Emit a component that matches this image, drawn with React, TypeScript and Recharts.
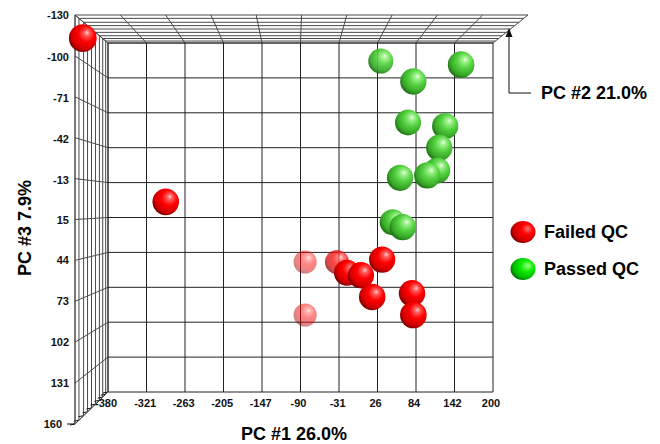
import { Legend, Scatter, ScatterChart, XAxis, YAxis } from 'recharts'

const pc1Ticks = [-380, -321, -263, -205, -147, -90, -31, 26, 84, 142, 200]
const pc3Ticks = [-130, -100, -71, -42, -13, 15, 44, 73, 102, 131, 160]

// failed samples, drawn back to front
const failedPc1 = [-418, -293, -83, -83, -35, -20, 1, 33, 18, 78, 80]
const failedPc3 = [-134, 2, 96, 52, 52, 61, 63, 50, 81, 78, 96]
const failedPc2 = [60, 20, -95, -95, -60, 0, 10, 10, 15, 15, 20]

const passedPc1 = [31, 152, 80, 72, 128, 119, 116, 101, 60, 49, 64]
const passedPc3 = [-115, -112, -98, -64, -61, -43, -24, -20, -18, 19, 23]
const passedPc2 = [-30, 20, 10, 0, 10, 10, 0, 10, 10, 0, 10]

const failed = failedPc1.map((pc1, i) => ({ pc1, pc3: failedPc3[i], pc2: failedPc2[i] }))
const passed = passedPc1.map((pc1, i) => ({ pc1, pc3: passedPc3[i], pc2: passedPc2[i] }))

const W = 660
const H = 444
const FONT = '"Liberation Sans", Arial, sans-serif'

// box geometry: back wall = plot area, front face = inner rectangle
const FRONT = { left: 108, right: 493, top: 43, bottom: 392 }
const BACK = { left: 75, right: 528, top: 15, bottom: 424 }
const DEPTH_STEPS = [0, 0.12, 0.26, 0.38, 0.5, 0.62, 0.74, 0.84, 0.93, 1]

const x0 = pc1Ticks[0]
const x1 = pc1Ticks[pc1Ticks.length - 1]
const y0 = pc3Ticks[0]
const y1 = pc3Ticks[pc3Ticks.length - 1]
const slopeX = (x1 - x0) / (FRONT.right - FRONT.left)
const slopeY = (y1 - y0) / (FRONT.bottom - FRONT.top)
const frontXDomain = [x0 - (FRONT.left - BACK.left) * slopeX, x1 + (BACK.right - FRONT.right) * slopeX]
const frontYDomain = [y0 - (FRONT.top - BACK.top) * slopeY, y1 + (BACK.bottom - FRONT.bottom) * slopeY]

const lerp = (a: number, b: number, t: number) => a + (b - a) * t

function Frame() {
  const n = pc1Ticks.length
  const m = pc3Ticks.length
  const fx = (i: number) => lerp(FRONT.left, FRONT.right, i / (n - 1))
  const bx = (i: number) => lerp(BACK.left, BACK.right, i / (n - 1))
  const fy = (i: number) => lerp(FRONT.top, FRONT.bottom, i / (m - 1))
  const by = (i: number) => lerp(BACK.top, BACK.bottom, i / (m - 1))

  const wall = '#4a4a4a'
  const grid = '#222'

  return (
    <svg width={W} height={H} style={{ position: 'absolute', left: 0, top: 0 }}>
      <defs>
        <radialGradient id="ballRed" cx="0.6" cy="0.4" r="0.7" fx="0.66" fy="0.3">
          <stop offset="0" stopColor="#ffd0d0" />
          <stop offset="0.15" stopColor="#ff5a5a" />
          <stop offset="0.42" stopColor="#ff0000" />
          <stop offset="0.75" stopColor="#d00000" />
          <stop offset="1" stopColor="#4a0000" />
        </radialGradient>
        <radialGradient id="ballGreen" cx="0.6" cy="0.4" r="0.7" fx="0.66" fy="0.3">
          <stop offset="0" stopColor="#e6ffe0" />
          <stop offset="0.15" stopColor="#9cf08a" />
          <stop offset="0.42" stopColor="#55d342" />
          <stop offset="0.75" stopColor="#36a526" />
          <stop offset="1" stopColor="#11500a" />
        </radialGradient>
        <radialGradient id="legendRed" cx="0.62" cy="0.4" r="0.7" fx="0.7" fy="0.35">
          <stop offset="0" stopColor="#ff7070" />
          <stop offset="0.35" stopColor="#ff0000" />
          <stop offset="0.75" stopColor="#cc0000" />
          <stop offset="1" stopColor="#500000" />
        </radialGradient>
        <radialGradient id="legendGreen" cx="0.62" cy="0.4" r="0.7" fx="0.7" fy="0.35">
          <stop offset="0" stopColor="#a0ff90" />
          <stop offset="0.35" stopColor="#10f000" />
          <stop offset="0.75" stopColor="#00b800" />
          <stop offset="1" stopColor="#005000" />
        </radialGradient>
      </defs>

      {/* depth lines on the left wall and the top face */}
      {DEPTH_STEPS.map((t) => {
        const xl = lerp(BACK.left, FRONT.left, t)
        const xr = lerp(BACK.right, FRONT.right, t)
        const yt = lerp(BACK.top, FRONT.top, t)
        const yb = lerp(BACK.bottom, FRONT.bottom, t)
        return (
          <g key={t}>
            <line x1={xl} y1={yt} x2={xl} y2={yb} stroke={wall} />
            <line x1={xl} y1={yt} x2={xr} y2={yt} stroke={wall} />
            <line x1={xl} y1={yb} x2={xl - 5} y2={yb + 1} stroke="#111" />
          </g>
        )
      })}
      <line x1={BACK.left} y1={BACK.bottom} x2={FRONT.left} y2={FRONT.bottom} stroke={wall} />
      <line x1={BACK.left - 8} y1={BACK.bottom} x2={BACK.left} y2={BACK.bottom} stroke="#111" />

      {/* tick connectors from back wall to front face */}
      {pc3Ticks.map((v, i) => (
        <line key={'wy' + v} x1={BACK.left} y1={by(i)} x2={FRONT.left} y2={fy(i)} stroke={wall} />
      ))}
      {pc1Ticks.map((v, i) => (
        <line key={'tx' + v} x1={bx(i)} y1={BACK.top} x2={fx(i)} y2={FRONT.top} stroke={wall} />
      ))}

      {/* front face grid */}
      {pc1Ticks.map((v, i) => (
        <line key={'fx' + v} x1={fx(i)} y1={FRONT.top} x2={fx(i)} y2={FRONT.bottom} stroke={grid} />
      ))}
      {pc3Ticks.map((v, i) => (
        <line key={'fy' + v} x1={FRONT.left} y1={fy(i)} x2={FRONT.right} y2={fy(i)} stroke={grid} />
      ))}

      {/* PC #2 axis pointer */}
      <polyline points="509,36 509,93 531,93" fill="none" stroke="#111" />
      <polygon points="509,28 505.5,37 512.5,37" fill="#111" />

      <g fontFamily={FONT} fontWeight="bold" fontSize={18} fill="#000">
        <text x={541} y={99}>PC #2 21.0%</text>
        <text x={294} y={440} textAnchor="middle">PC #1 26.0%</text>
        <text transform="translate(31, 228) rotate(-90)" textAnchor="middle">PC #3 7.9%</text>
      </g>
    </svg>
  )
}

function makeBall(grad: string) {
  return (props: any) => {
    const { cx, cy, payload } = props
    if (cx == null || cy == null) return <g />
    const r = 13 + payload.pc2 * 0.015
    const op = Math.min(1, 0.45 + ((payload.pc2 + 100) / 80) * 0.55)
    return <circle cx={cx} cy={cy} r={r} fill={`url(#${grad})`} opacity={op} />
  }
}

function Pc1Tick({ x, y, payload }: any) {
  return (
    <text x={x - 2} y={y - 17} textAnchor="middle" fontSize={11} fontWeight="bold" fill="#111" fontFamily={FONT}>
      {payload.value}
    </text>
  )
}

// the last PC #3 label sits left of the corner tick mark
function Pc3Tick({ x, y, payload }: any) {
  const shift = payload.value === y1 ? 7 : 0
  return (
    <text x={x - shift} y={y + 4} textAnchor="end" fontSize={11} fontWeight="bold" fill="#111" fontFamily={FONT}>
      {payload.value}
    </text>
  )
}

function LegendBox({ payload }: any) {
  return (
    <div style={{ display: 'flex', flexDirection: 'column', gap: 11, fontFamily: FONT }}>
      {(payload ?? []).map((e: any) => (
        <div key={e.value} style={{ display: 'flex', alignItems: 'center', height: 26 }}>
          <svg width={26} height={24}>
            <ellipse cx={13} cy={12} rx={12.5} ry={11}
              fill={`url(#${e.value === 'Failed QC' ? 'legendRed' : 'legendGreen'})`} />
          </svg>
          <span style={{ marginLeft: 8, fontSize: 18, fontWeight: 'bold', color: '#000' }}>{e.value}</span>
        </div>
      ))}
    </div>
  )
}

export default function App() {
  return (
    <div style={{ position: 'absolute', left: 0, top: 0, width: W, height: H, background: '#fff', fontFamily: FONT }}>
      <Frame />
      <div style={{ position: 'absolute', left: 0, top: 0 }}>
        <ScatterChart width={W} height={H} margin={{ top: BACK.top, right: W - BACK.right, bottom: 0, left: 0 }}>
          <XAxis
            xAxisId="front"
            type="number"
            dataKey="pc1"
            domain={frontXDomain}
            ticks={pc1Ticks}
            interval={0}
            height={H - BACK.bottom}
            axisLine={false}
            tickLine={false}
            tickSize={0}
            tickMargin={0}
            tick={<Pc1Tick />}
          />
          <YAxis
            yAxisId="back"
            type="number"
            domain={[y0, y1]}
            allowDataOverflow
            reversed
            ticks={pc3Ticks}
            interval={0}
            width={BACK.left}
            tickSize={0}
            tickMargin={6}
            axisLine={{ stroke: '#4a4a4a' }}
            tick={<Pc3Tick />}
          />
          <YAxis yAxisId="front" type="number" dataKey="pc3" domain={frontYDomain} reversed hide />
          <Legend
            layout="vertical"
            align="center"
            verticalAlign="middle"
            wrapperStyle={{ left: 510, top: 219, width: 150 }}
            content={<LegendBox />}
          />
          <Scatter name="Failed QC" data={failed} xAxisId="front" yAxisId="front" fill="#ff0000"
            shape={makeBall('ballRed')} isAnimationActive={false} />
          <Scatter name="Passed QC" data={passed} xAxisId="front" yAxisId="front" fill="#33cc22"
            shape={makeBall('ballGreen')} isAnimationActive={false} />
        </ScatterChart>
      </div>
    </div>
  )
}
